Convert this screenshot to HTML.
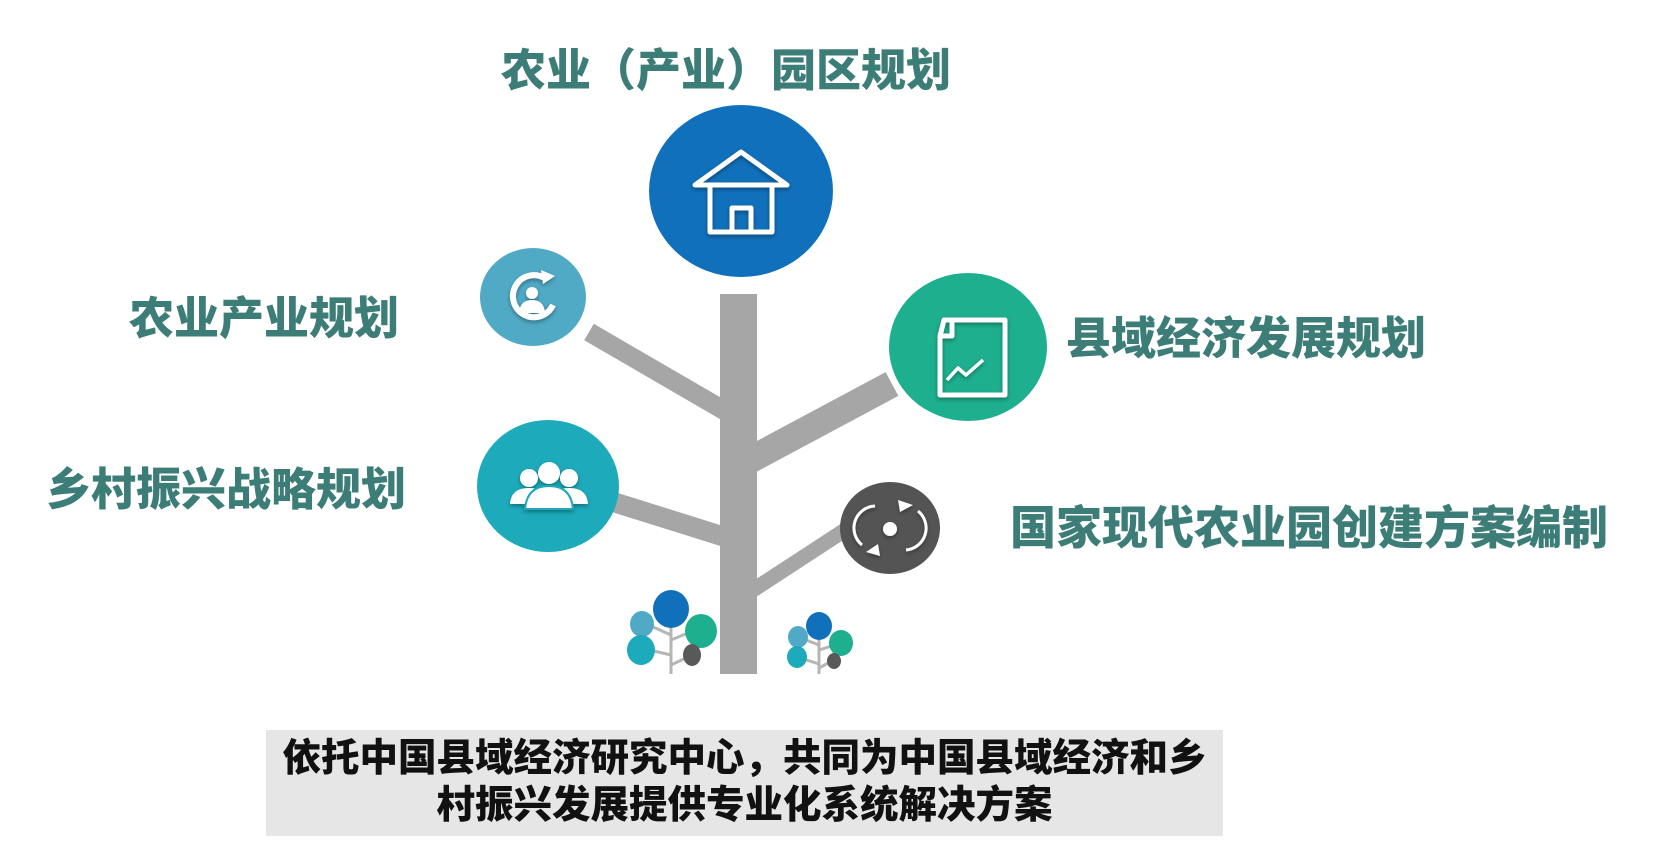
<!DOCTYPE html>
<html><head><meta charset="utf-8"><style>
html,body{margin:0;padding:0;background:#fff;}
body{width:1674px;height:858px;position:relative;overflow:hidden;font-family:"Liberation Sans","Noto Sans CJK SC",sans-serif;}
.t{position:absolute;color:#3d7d78;font-weight:900;font-size:45px;white-space:nowrap;line-height:1;letter-spacing:0px;}
.box{position:absolute;left:266px;top:730px;width:957px;height:106px;background:#e6e6e6;text-align:center;font-weight:900;font-size:38.5px;line-height:47px;color:#111;padding-top:5px;box-sizing:border-box;white-space:nowrap;}
svg{position:absolute;left:0;top:0;}
</style></head><body>
<svg width="1674" height="858" viewBox="0 0 1674 858">
<defs>
<filter id="sh" x="-20%" y="-20%" width="140%" height="140%"><feDropShadow dx="0" dy="2" stdDeviation="2" flood-color="#000" flood-opacity="0.35"/></filter>
</defs>
<g stroke="#a6a6a6" stroke-linecap="butt">
<line x1="589" y1="332" x2="725" y2="411" stroke-width="19"/>
<line x1="892" y1="384" x2="750" y2="460" stroke-width="27"/>
<line x1="610" y1="501" x2="725" y2="537" stroke-width="20"/>
<line x1="845" y1="530" x2="750" y2="592" stroke-width="15"/>
</g>
<rect x="720" y="294" width="37" height="380" fill="#a6a6a6"/>
<g stroke="#b5b5b5" stroke-width="3" fill="none">
<line x1="671" y1="610" x2="671" y2="674"/><line x1="671" y1="635" x2="642" y2="622"/><line x1="671" y1="640" x2="700" y2="628"/><line x1="671" y1="655" x2="641" y2="648"/><line x1="671" y1="665" x2="692" y2="655"/>
<line x1="819" y1="625" x2="819" y2="674"/><line x1="819" y1="645" x2="798" y2="637"/><line x1="819" y1="650" x2="841" y2="643"/><line x1="819" y1="664" x2="797" y2="657"/><line x1="819" y1="668" x2="834" y2="660"/>
</g>
<ellipse cx="671" cy="609" rx="18" ry="19" fill="#1170bb"/>
<ellipse cx="642" cy="624" rx="12" ry="13" fill="#50aac6"/>
<ellipse cx="701" cy="631" rx="16" ry="17" fill="#1daf8e"/>
<ellipse cx="641" cy="650" rx="14" ry="15" fill="#1daabb"/>
<ellipse cx="692" cy="655" rx="9" ry="11" fill="#595959"/>
<ellipse cx="819" cy="626" rx="13" ry="14" fill="#1170bb"/>
<ellipse cx="798" cy="637" rx="10" ry="11" fill="#50aac6"/>
<ellipse cx="841" cy="643" rx="12" ry="13" fill="#1daf8e"/>
<ellipse cx="797" cy="657" rx="10" ry="11" fill="#1daabb"/>
<ellipse cx="834" cy="661" rx="7" ry="8" fill="#595959"/>
<ellipse cx="741" cy="191" rx="92" ry="86" fill="#1170bb"/>
<ellipse cx="533" cy="297" rx="53" ry="49" fill="#50aac6"/>
<ellipse cx="548" cy="486" rx="71" ry="66" fill="#1daabb"/>
<ellipse cx="968" cy="347" rx="79" ry="74" fill="#1daf8e"/>
<ellipse cx="890" cy="528" rx="50" ry="46" fill="#545454"/>
<g filter="url(#sh)" stroke="#fff" fill="none" stroke-width="5" stroke-linejoin="round">
<path d="M695 185 L741 152 L787 185 Z"/>
<path d="M710 186 V232 H772 V186"/>
<path d="M732 232 V208 H751 V232"/>
<path d="M944 320 H1005 V395 H940 V336 Z M940 336 H952 V320"/>
<path d="M947 380 L958 368 L966 375 L983 360" stroke-width="3.5"/>
<path d="M918 511 A22 22 0 0 1 906 550" stroke-width="3"/>
<path d="M862 545 A22 22 0 0 1 875 506" stroke-width="3"/>
</g>
<g filter="url(#sh)" fill="#fff">
<path d="M898 500 L913 505 L900 512 Z"/>
<path d="M880 556 L866 552 L878 544 Z"/>
<circle cx="890" cy="529" r="7"/>
<path d="M546 279 A21 21 0 1 0 553 305" fill="none" stroke="#fff" stroke-width="6"/>
<path d="M541 270 L555 276 L543 284 Z"/>
<circle cx="532" cy="293" r="6"/>
<path d="M519 313 Q520 300 532 300 Q544 300 545 313 Z"/>
<circle cx="529" cy="478" r="9"/><circle cx="569" cy="478" r="9"/>
<path d="M510 504 Q511 488 529 488 Q547 488 548 504 Z"/>
<path d="M550 504 Q551 488 569 488 Q587 488 588 504 Z"/>
<circle cx="549" cy="473" r="11"/>
<path d="M525 509 Q527 486 549 486 Q571 486 573 509 Z" stroke="#1daabb" stroke-width="2"/>
</g>
</svg>
<div class="t" style="left:501px;top:48px;">农业（产业）园区规划</div>
<div class="t" style="left:129px;top:296px;">农业产业规划</div>
<div class="t" style="left:46px;top:467px;">乡村振兴战略规划</div>
<div class="t" style="left:1066px;top:316px;">县域经济发展规划</div>
<div class="t" style="left:1010px;top:505px;font-size:46px;">国家现代农业园创建方案编制</div>
<div class="box">依托中国县域经济研究中心，共同为中国县域经济和乡<br>村振兴发展提供专业化系统解决方案</div>
</body></html>
